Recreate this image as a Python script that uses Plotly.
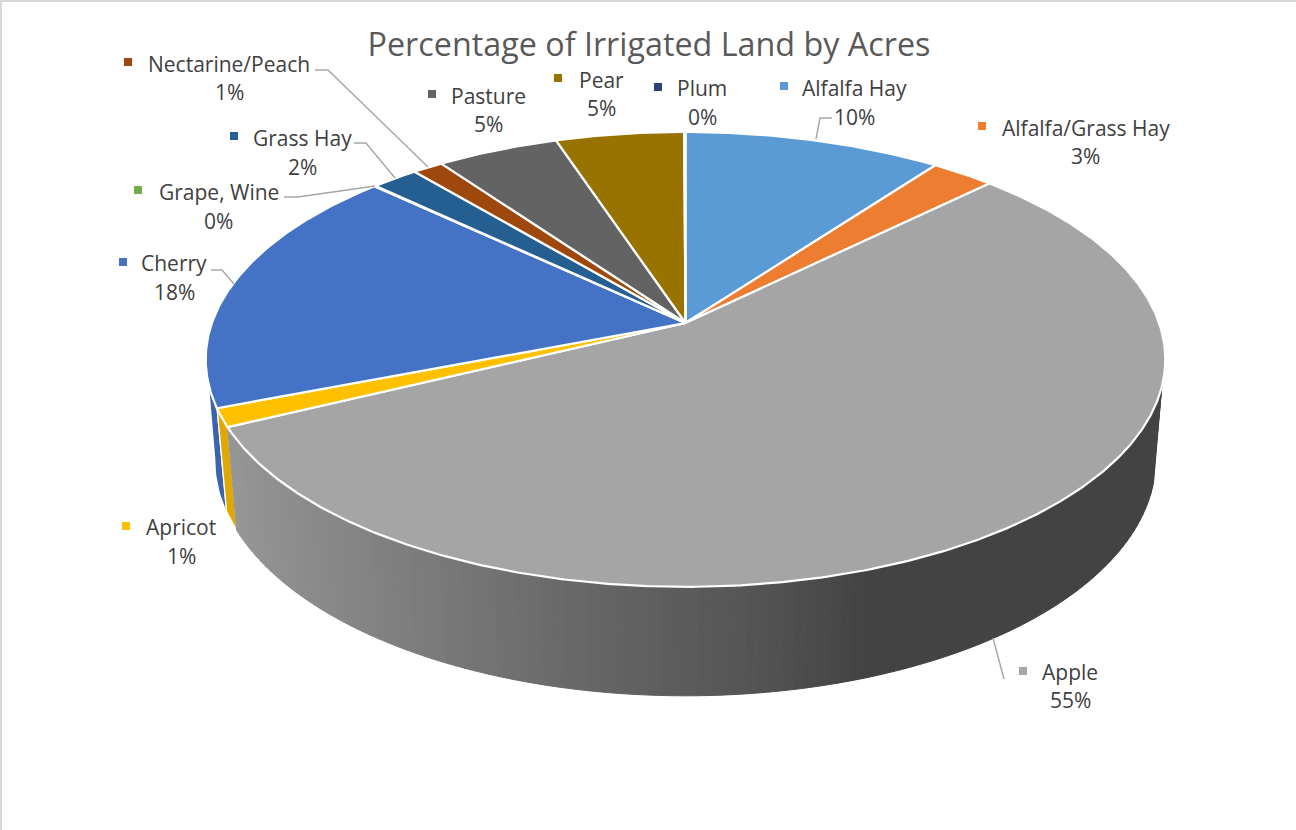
import numpy as np
import plotly.graph_objects as go

# ---- data ----
categories = ["Alfalfa Hay", "Alfalfa/Grass Hay", "Apple", "Apricot", "Cherry", "Grape, Wine",
              "Grass Hay", "Nectarine/Peach", "Pasture", "Pear", "Plum"]
values = [10.15, 2.5, 55.15, 1.3, 17.9, 0.05, 1.85, 1.2, 4.8, 5.05, 0.05]
percent_labels = ["10%", "3%", "55%", "1%", "18%", "0%", "2%", "1%", "5%", "5%", "0%"]
colors = ["#5B9BD5", "#ED7D31", "#A5A5A5", "#FFC000", "#4472C4", "#70AD47",
          "#255E91", "#9E480E", "#636363", "#997300", "#264478"]
title = "Percentage of Irrigated Land by Acres"

# ---- layout of the tilted pie (pixels) ----
CX, CY = 685.5, 323.0      # projected centre
BX, BY = 473.6, 221.6      # projected radii
K = 0.16                   # perspective
SHRINK = 0.98              # lower rim is a little narrower
D0, D1 = 98.5, 10.5        # wall height

# label layout: name centre, name y, percent centre, percent y, key x, key y
label_pos = {
    "Nectarine/Peach": (229, 63.5, 229, 91.5, 128, 62),
    "Pasture": (488, 95.5, 488, 123.5, 432, 94),
    "Pear": (601, 79.5, 601, 107.5, 558, 78),
    "Plum": (702, 87.5, 702, 116.5, 658, 87),
    "Alfalfa Hay": (854, 87.5, 854, 116.5, 784, 86),
    "Alfalfa/Grass Hay": (1086, 127.5, 1085, 155.5, 982, 126),
    "Grass Hay": (302, 137.5, 302, 166.5, 234, 136),
    "Grape, Wine": (219, 191.5, 218, 220.5, 138, 190),
    "Cherry": (174, 262.5, 174, 291.5, 123, 262),
    "Apricot": (181, 526.5, 181, 555.5, 126, 526),
    "Apple": (1070, 671.5, 1070, 699.5, 1023, 671),
}
leaders = [
    ([315, 328, 428], [70, 70, 167]),
    ([354, 366, 395], [143, 143, 178]),
    ([284, 298, 375], [197, 197, 186]),
    ([211, 222, 234], [270, 270, 284]),
    ([832, 820, 816], [118, 118, 139]),
    ([1004, 993], [679, 638]),
]


def top_xy(t):
    t = np.radians(t)
    u, v = np.sin(t), np.cos(t)
    w = 1 + K * v
    return CX + BX * u / w, CY - BY * v / w


def bottom_xy(t):
    x, y = top_xy(t)
    v = np.cos(np.radians(t))
    return CX + SHRINK * (x - CX), y + D0 - D1 * v


def mix_grey(x):
    stops_x = [230, 300, 450, 600, 750, 840, 870, 1200]
    stops_g = [0x96, 0x8c, 0x78, 0x65, 0x55, 0x48, 0x43, 0x43]
    g = int(np.interp(x, stops_x, stops_g))
    return f"rgb({g},{g},{g})"


def shade(hex_color, f):
    r, g, b = (int(hex_color[i:i + 2], 16) for i in (1, 3, 5))
    return f"rgb({int(r * f)},{int(g * f)},{int(b * f)})"


fig = go.Figure()

# page edge
fig.add_trace(go.Scatter(x=[1, 1, 1296], y=[830, 1, 1], mode="lines",
                         line=dict(color="#d9d9d9", width=2), hoverinfo="skip"))

edges = np.concatenate([[0], np.cumsum(values)]) / sum(values) * 360
spans = {c: (edges[i], edges[i + 1]) for i, c in enumerate(categories)}
col = dict(zip(categories, colors))

WALL_R, WALL_R_TAN = 106.0, 99.0
WALL_L, WALL_L_TAN = 254.0, 261.0

# walls: cherry (left), apricot, apple
a0, a1 = spans["Cherry"][0] + 0.35, WALL_L
ts = np.linspace(a0, a1, 12)
tb = np.linspace(a0, WALL_L_TAN, 12)
xs = list(top_xy(ts)[0]) + list(bottom_xy(tb)[0])[::-1]
ys = list(top_xy(ts)[1]) + list(bottom_xy(tb)[1])[::-1]
fig.add_trace(go.Scatter(x=xs, y=ys, mode="lines", fill="toself", fillcolor=shade(col["Cherry"], 0.88),
                         line=dict(width=0), hoverinfo="skip"))

a0, a1 = spans["Apricot"]
ts = np.linspace(a0 + 0.15, a1 - 0.15, 6)
xs = list(top_xy(ts)[0]) + list(bottom_xy(ts)[0])[::-1]
ys = list(top_xy(ts)[1]) + list(bottom_xy(ts)[1])[::-1]
fig.add_trace(go.Scatter(x=xs, y=ys, mode="lines", fill="toself", fillcolor=shade(col["Apricot"], 0.88),
                         line=dict(color="white", width=1.2), hoverinfo="skip"))

a_start, a_end = spans["Apple"]
N = 110
tt = np.linspace(WALL_R, a_end, N + 1)
for i in range(N):
    ta, tbb = tt[i], tt[i + 1]
    xa, ya = top_xy(ta)
    xb, yb = top_xy(tbb)
    xc, yc = bottom_xy(tbb)
    xd, yd = bottom_xy(ta)
    c = mix_grey((xa + xb) / 2)
    fig.add_trace(go.Scatter(x=[xa, xb, xc, xd, xa], y=[ya, yb, yc, yd, ya], mode="lines", fill="toself",
                             fillcolor=c, line=dict(color=c, width=1), hoverinfo="skip"))
# tangent wedge on the right
tb = np.linspace(WALL_R_TAN, WALL_R, 10)
x0, y0 = top_xy(WALL_R)
xs = [x0] + list(bottom_xy(tb)[0]) + [x0]
ys = [y0] + list(bottom_xy(tb)[1]) + [y0]
c = mix_grey(1100)
fig.add_trace(go.Scatter(x=xs, y=ys, mode="lines", fill="toself", fillcolor=c,
                         line=dict(color=c, width=1), hoverinfo="skip"))

# top faces
for i, cat in enumerate(categories):
    a0, a1 = edges[i], edges[i + 1]
    ts = np.linspace(a0, a1, max(3, int((a1 - a0) * 2)))
    px, py = top_xy(ts)
    xs = [CX] + list(px) + [CX]
    ys = [CY] + list(py) + [CY]
    fig.add_trace(go.Scatter(x=xs, y=ys, mode="lines", fill="toself", fillcolor=colors[i],
                             line=dict(color="white", width=2.2), name=cat,
                             text=f"{cat} {percent_labels[i]}", hoverinfo="text"))

# leader lines
for lx, ly in leaders:
    fig.add_trace(go.Scatter(x=lx, y=ly, mode="lines", line=dict(color="#a6a6a6", width=1.4), hoverinfo="skip"))

# legend keys
fig.add_trace(go.Scatter(
    x=[label_pos[c][4] for c in categories], y=[label_pos[c][5] for c in categories],
    mode="markers", marker=dict(symbol="square", size=8, color=colors, line=dict(width=0)), hoverinfo="skip"))

# labels
annotations = []
for cat, pct in zip(categories, percent_labels):
    nx, ny, px, py, _, _ = label_pos[cat]
    for txt, ax, ay in ((cat, nx, ny), (pct, px, py)):
        annotations.append(dict(x=ax, y=ay, xref="x", yref="y", text=txt, showarrow=False,
                                xanchor="center", yanchor="middle",
                                font=dict(family="Open Sans", size=21, color="#404040")))

fig.update_layout(
    width=1296, height=830, margin=dict(l=0, r=0, t=0, b=0),
    paper_bgcolor="white", plot_bgcolor="white", showlegend=False,
    title=dict(text=title, x=649 / 1296, xanchor="center", y=1 - 45 / 830, yanchor="middle",
               font=dict(family="Open Sans", size=32.3, color="#595959")),
    xaxis=dict(range=[0, 1296], visible=False, fixedrange=True),
    yaxis=dict(range=[830, 0], visible=False, fixedrange=True),
    annotations=annotations,
)

fig.write_html("out.html", post_script="document.body.style.margin='0';",
               config={"displayModeBar": False})
